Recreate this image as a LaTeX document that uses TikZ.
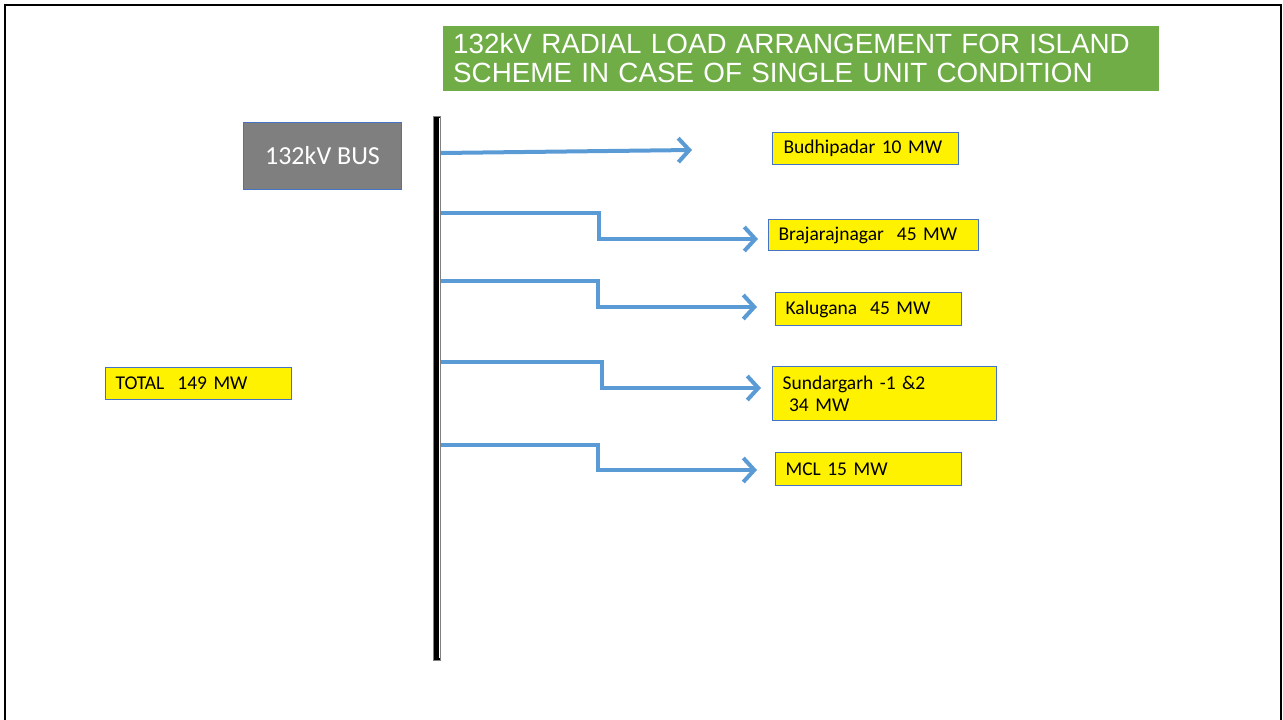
\documentclass[tikz,border=0pt]{standalone}
\usepackage{fontspec}
\setmainfont{Carlito}
\newfontfamily\titlefont{Liberation Sans}
\usetikzlibrary{arrows.meta}
\definecolor{titlegreen}{HTML}{70AD47}
\definecolor{busgray}{HTML}{7F7F7F}
\definecolor{edgeblue}{HTML}{4472C4}
\definecolor{feedblue}{HTML}{5B9BD5}
\tikzset{
  loadbox/.style={draw=edgeblue, fill=yellow, line width=1.2pt, anchor=north west,
    inner xsep=#1, inner ysep=0pt, align=left, font=\fontsize{19.5}{22}\selectfont},
  feeder/.style={draw=feedblue, line width=4pt,
    -{Straight Barb[length=11pt,width=24pt,line width=4pt]}}
}
\begin{document}
\begin{tikzpicture}[x=1pt,y=-1pt]
\useasboundingbox (0,0) rectangle (1283,720);
% frame
\draw[line width=2.5pt] (5,730) -- (5,5) -- (1281,5) -- (1281,730);
% title
\node[fill=titlegreen, anchor=north west, minimum width=716pt, minimum height=65pt,
  inner xsep=10pt, inner ysep=0pt, text width=696pt, align=left, text=white,
  font=\titlefont\fontsize{27.8}{28.5}\selectfont] (title) at (443,26)
  {\raisebox{2pt}{132kV RADIAL LOAD ARRANGEMENT FOR ISLAND}\\\raisebox{2pt}{SCHEME IN CASE OF SINGLE UNIT CONDITION}};
% bus label
\node[fill=busgray, draw=edgeblue, line width=1pt, anchor=north west, minimum width=158pt,
  minimum height=67pt, inner sep=0pt, text=white, font=\fontsize{26}{28}\selectfont]
  (buslabel) at (243,122) {132kV BUS};
% bus bar
\node[fill=black, draw=gray, line width=0.8pt, anchor=north west, minimum width=7pt,
  minimum height=544pt, inner sep=0pt] (bus) at (433,116) {};
\fill[white] (438.5,118) rectangle (440,658);
% load boxes
\node[loadbox=11pt, text width=164pt, minimum height=32pt] (budhi) at (772,132) {Budhipadar 10 MW};
\node[loadbox=10pt, text width=190pt, minimum height=31pt] (braja) at (768,219) {Brajarajnagar\ \ 45 MW};
\node[loadbox=10pt, text width=166pt, minimum height=33pt] (kalu) at (775,292) {Kalugana\ \ 45 MW};
\node[loadbox=10pt, text width=204pt, minimum height=54pt] (sund) at (772,366) {Sundargarh -1 \&2\\\ 34 MW};
\node[loadbox=10pt, text width=166pt, minimum height=33pt] (mcl) at (775,452) {MCL 15 MW};
\node[loadbox=10pt, text width=166pt, minimum height=32pt] (total) at (105,367) {TOTAL\ \ 149 MW};
% feeder ends
\coordinate (e1) at (692,150);
\coordinate (e2) at (758,239);
\coordinate (e3) at (757,307);
\coordinate (e4) at (761,388);
\coordinate (e5) at (757,470);
% feeders
\draw[feeder] (bus.east |- 0,153) -- (e1);
\draw[feeder] (bus.east |- 0,213) -- (599,213) -- (599,239) -- (e2);
\draw[feeder] (bus.east |- 0,281) -- (598,281) -- (598,307) -- (e3);
\draw[feeder] (bus.east |- 0,362) -- (602,362) -- (602,388) -- (e4);
\draw[feeder] (bus.east |- 0,445) -- (598,445) -- (598,470) -- (e5);
\end{tikzpicture}
\end{document}
